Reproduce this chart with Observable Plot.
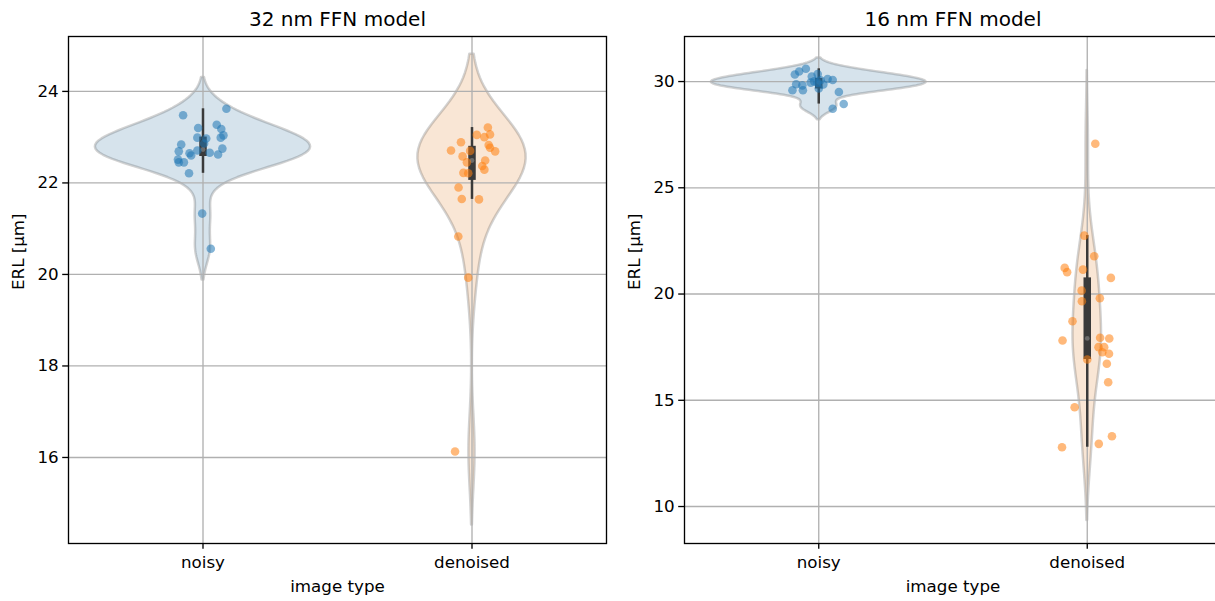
<!DOCTYPE html>
<html>
<head>
<meta charset="utf-8">
<script src="https://cdn.jsdelivr.net/npm/d3@7"></script>
<script src="https://cdn.jsdelivr.net/npm/@observablehq/plot@0.6"></script>
<style>
  html, body { margin: 0; padding: 0; background: #fff; overflow: hidden; }
  #row { display: flex; width: 1215px; height: 601px; overflow: hidden; }
  #row > div { flex: none; }
</style>
</head>
<body>
<div id="row"><div id="p32"></div><div id="p16"></div></div>
<script>
// Image types on the x axis
const imageTypes = ["noisy", "denoised"];

// ERL (µm) per evaluation volume, 32 nm FFN model
const erl32Noisy = [23.48, 23.62, 23.20, 23.27, 23.18, 23.04, 22.99, 22.99, 22.97, 22.86,
                    22.84, 22.75, 22.69, 22.65, 22.60, 22.71, 22.66, 22.62, 22.51, 22.45,
                    22.45, 22.21, 21.33, 20.56];
const jitter32Noisy = [-0.074, 0.087, -0.018, 0.051, 0.068, 0.076, 0.066, -0.021, 0.012, 0.004,
                       -0.081, 0.072, -0.090, -0.050, -0.044, -0.021, 0.025, 0.056, -0.093, -0.090,
                       -0.071, -0.052, -0.003, 0.029];
const erl32Denoised = [23.21, 23.05, 23.06, 23.00, 22.89, 22.83, 22.77, 22.69, 22.71, 22.70,
                       22.58, 22.45, 22.49, 22.37, 22.29, 22.22, 22.21, 21.90, 21.65, 21.64,
                       20.83, 19.93, 16.13];
const jitter32Denoised = [0.059, 0.018, 0.067, 0.046, -0.041, 0.062, 0.067, 0.086, -0.078, -0.007,
                          -0.035, -0.019, 0.049, 0.038, 0.046, -0.032, -0.014, -0.050, -0.038, 0.026,
                          -0.051, -0.014, -0.063];

// ERL (µm) per evaluation volume, 16 nm FFN model
const erl16Noisy = [30.60, 30.47, 30.33, 30.35, 30.12, 30.07, 29.95, 30.01, 29.95, 30.06,
                    29.86, 29.87, 29.82, 29.59, 29.59, 29.51, 28.94, 28.72, 30.24, 29.67];
const jitter16Noisy = [-0.048, -0.073, -0.089, -0.004, 0.033, 0.052, -0.030, -0.017, -0.005, 0.007,
                       0.017, -0.084, -0.061, -0.098, -0.059, 0.075, 0.093, 0.052, -0.026, 0.000];
const erl16Denoised = [27.07, 22.75, 21.78, 21.23, 21.03, 21.15, 20.76, 20.16, 19.66, 19.80,
                       18.72, 17.81, 17.94, 17.91, 17.50, 17.50, 17.26, 17.19, 16.92, 16.72,
                       15.85, 14.67, 13.31, 12.95, 12.79];
const jitter16Denoised = [0.030, -0.011, 0.026, -0.084, -0.075, -0.016, 0.088, -0.021, -0.020, 0.047,
                          -0.055, -0.092, 0.048, 0.082, 0.042, 0.063, 0.056, 0.081, 0.000, 0.073,
                          0.078, -0.047, 0.092, 0.043, -0.094];

// Axis ticks
const yTicks32 = [16, 18, 20, 22, 24];
const yTicks16 = [10, 15, 20, 25, 30];

const violinFill = ["#3274a1", "#e1812c"];
const pointFill = ["#1f77b4", "#ff7f0e"];
const boxGray = "#3a3a3a";
const font = "'DejaVu Sans', sans-serif";
const tickFont = "16.7px";
const titleFont = "20px";

// Gaussian KDE with Scott's bandwidth, evaluated on a grid cut 2 bandwidths past the data
function kde(values) {
  const n = values.length;
  const bw = d3.deviation(values) * Math.pow(n, -1 / 5);
  const lo = d3.min(values) - 2 * bw, hi = d3.max(values) + 2 * bw;
  const norm = 1 / (n * bw * Math.sqrt(2 * Math.PI));
  return d3.range(100).map(i => {
    const y = lo + (hi - lo) * i / 99;
    return {y, d: norm * d3.sum(values, v => Math.exp(-0.5 * ((y - v) / bw) ** 2))};
  });
}

// Box statistics: quartiles and whiskers reaching the furthest data within 1.5 IQR
function boxStats(values) {
  const s = values.slice().sort(d3.ascending);
  const q1 = d3.quantile(s, 0.25), q2 = d3.quantile(s, 0.5), q3 = d3.quantile(s, 0.75);
  const lim = 1.5 * (q3 - q1);
  return {q1, q2, q3,
          lo: d3.min(s.filter(v => v >= q1 - lim)),
          hi: d3.max(s.filter(v => v <= q3 + lim))};
}

function panel({title, groups, yDomain, yTicks, width, marginLeft, marginRight}) {
  const dens = groups.map(g => kde(g.values));
  const maxD = d3.max(dens, ds => d3.max(ds, p => p.d));
  const violins = dens.flatMap((ds, i) => ds.map(p => ({
    i, y: p.y, x1: i - 0.4 * p.d / maxD, x2: i + 0.4 * p.d / maxD
  })));
  const boxes = groups.map((g, i) => ({i, ...boxStats(g.values)}));
  const points = groups.flatMap((g, i) => g.values.map((v, k) => ({i, x: i + g.jitter[k], y: v})));

  return Plot.plot({
    width, height: 601,
    marginLeft, marginRight, marginTop: 36, marginBottom: 58,
    style: {fontFamily: font, fontSize: tickFont, color: "#000", background: "#fff"},
    x: {domain: [-0.5, 1.5]},
    y: {domain: yDomain},
    marks: [
      Plot.areaX(violins, {
        y: "y", x1: "x1", x2: "x2", z: "i",
        fill: d => violinFill[d.i], fillOpacity: 0.2,
        stroke: "#4c4c4c", strokeOpacity: 0.25, strokeWidth: 2.5, curve: "linear"
      }),
      Plot.gridX({ticks: [0, 1], stroke: "#b0b0b0", strokeOpacity: 1, strokeWidth: 1.33}),
      Plot.gridY({ticks: yTicks, stroke: "#b0b0b0", strokeOpacity: 1, strokeWidth: 1.33}),
      Plot.ruleX(boxes, {x: "i", y1: "lo", y2: "hi", stroke: boxGray, strokeWidth: 2.5}),
      Plot.ruleX(boxes, {x: "i", y1: "q1", y2: "q3", stroke: boxGray, strokeWidth: 7.5}),
      Plot.dot(boxes, {x: "i", y: "q2", r: 2.4, fill: "#6a6a6a", stroke: "none"}),
      Plot.dot(points, {
        x: "x", y: "y", r: 4.3,
        fill: d => pointFill[d.i], fillOpacity: 0.55, stroke: "none"
      }),
      Plot.axisX({ticks: [0, 1], tickFormat: i => imageTypes[i], tickSize: 5.8, tickPadding: 7,
                  strokeWidth: 1.33, label: null, fontSize: tickFont}),
      Plot.axisY({ticks: yTicks, tickSize: 5.8, tickPadding: 4, strokeWidth: 1.33,
                  label: null, fontSize: tickFont}),
      Plot.frame({stroke: "#000", strokeWidth: 1.33}),
      Plot.text([title], {frameAnchor: "top", lineAnchor: "middle", dy: -17,
                          fontSize: titleFont, fill: "#000"}),
      Plot.text(["image type"], {frameAnchor: "bottom", lineAnchor: "middle", dy: 43,
                                 fontSize: tickFont, fill: "#000"}),
      Plot.text(["ERL [μm]"], {frameAnchor: "left", lineAnchor: "middle", dx: -50, rotate: -90,
                               fontSize: tickFont, fill: "#000"})
    ]
  });
}

document.getElementById("p32").append(panel({
  title: "32 nm FFN model",
  groups: [{values: erl32Noisy, jitter: jitter32Noisy}, {values: erl32Denoised, jitter: jitter32Denoised}],
  yDomain: [14.12, 25.2], yTicks: yTicks32,
  width: 620, marginLeft: 68, marginRight: 14
}));

document.getElementById("p16").append(panel({
  title: "16 nm FFN model",
  groups: [{values: erl16Noisy, jitter: jitter16Noisy}, {values: erl16Denoised, jitter: jitter16Denoised}],
  yDomain: [8.26, 32.12], yTicks: yTicks16,
  width: 601, marginLeft: 64, marginRight: 0
}));
</script>
</body>
</html>
